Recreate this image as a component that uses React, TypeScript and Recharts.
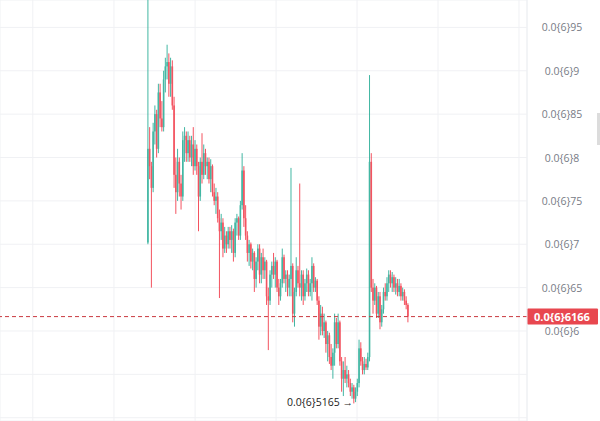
import {
  ComposedChart,
  Bar,
  XAxis,
  YAxis,
  CartesianGrid,
  ReferenceLine,
  ReferenceDot,
} from "recharts";

// prices in units of 1e-8 (0.0{6}6166 -> 6.166)
const opens = [
  7.02, 8.1, 7.9, 7.65, 8.3, 8.5, 8.1, 8.75, 8.45, 8.35,
  8.9, 9.05, 9.1, 8.85, 9.05, 8.6, 7.8, 7.6, 7.95, 7.7,
  7.55, 8.2, 8.25, 8.05, 8.2, 8.0, 8.15, 7.9, 8.1, 7.9,
  7.55, 7.95, 7.8, 8.05, 7.9, 7.95, 7.75, 7.9, 7.6, 7.5,
  7.55, 7.3, 7.15, 7.25, 6.95, 7.1, 7.0, 7.15, 7.05, 7.15,
  6.9, 7.25, 7.3, 7.1, 7.45, 7.85, 7.3, 7.1, 6.9, 7.0,
  6.8, 6.9, 6.6, 6.8, 6.95, 6.65, 6.85, 6.7, 6.8, 6.4,
  6.35, 6.65, 6.75, 6.65, 6.8, 6.5, 6.4, 6.55, 6.85, 6.6,
  6.65, 6.5, 6.6, 6.75, 6.2, 6.45, 6.7, 6.55, 6.5, 6.65,
  6.4, 6.55, 6.65, 6.45, 6.55, 6.75, 6.5, 6.58, 6.35, 6.05,
  6.2, 6.0, 6.1, 5.85, 5.95, 5.7, 5.6, 5.75, 6.1, 5.85,
  6.1, 5.65, 5.45, 5.55, 5.45, 5.5, 5.4, 5.3, 5.35, 5.22,
  5.3, 5.4, 5.8, 5.65, 5.55, 5.62, 5.58, 5.7, 7.95, 6.5,
  6.35, 6.5, 6.2, 6.4, 6.1, 6.25, 6.45, 6.4, 6.55, 6.65,
  6.55, 6.62, 6.5, 6.55, 6.45, 6.52, 6.4, 6.45, 6.35, 6.3,
];

const highs = [
  9.95, 8.35, 7.95, 8.4, 8.6, 8.55, 8.85, 8.85, 8.65, 9.0,
  9.15, 9.3, 9.2, 9.15, 9.12, 8.7, 8.0, 8.1, 8.0, 7.8,
  8.3, 8.35, 8.3, 8.3, 8.25, 8.25, 8.35, 8.2, 8.15, 7.95,
  8.0, 8.28, 8.15, 8.1, 8.0, 8.0, 7.98, 7.92, 7.7, 7.65,
  7.6, 7.4, 7.35, 7.3, 7.2, 7.15, 7.2, 7.2, 7.22, 7.18,
  7.3, 7.35, 7.32, 7.5, 8.05, 7.9, 7.45, 7.15, 7.05, 7.02,
  6.95, 6.92, 6.85, 7.0, 7.0, 6.9, 6.95, 6.85, 6.82, 6.5,
  6.7, 6.8, 6.9, 6.85, 6.82, 6.6, 6.6, 6.95, 6.88, 6.7,
  6.7, 6.65, 7.88, 6.78, 6.5, 6.85, 6.75, 7.7, 6.7, 6.7,
  6.6, 6.72, 6.7, 6.6, 6.85, 6.78, 6.62, 6.6, 6.4, 6.3,
  6.28, 6.2, 6.12, 6.0, 5.98, 5.85, 5.8, 6.2, 6.15, 6.2,
  6.12, 5.7, 5.65, 5.7, 5.6, 5.55, 5.45, 5.4, 5.38, 5.35,
  5.45, 5.9, 5.87, 5.7, 5.7, 5.68, 5.75, 8.95, 8.05, 6.6,
  6.55, 6.52, 6.45, 6.45, 6.3, 6.5, 6.55, 6.62, 6.7, 6.7,
  6.68, 6.65, 6.62, 6.6, 6.6, 6.55, 6.5, 6.48, 6.4, 6.32,
];

const lows = [
  7.0, 7.75, 6.5, 7.6, 8.15, 8.0, 8.05, 8.35, 8.3, 8.3,
  8.75, 8.9, 8.7, 8.7, 8.55, 7.65, 7.35, 7.5, 7.55, 7.4,
  7.5, 7.95, 7.95, 7.95, 7.95, 7.9, 7.8, 7.85, 7.8, 7.15,
  7.5, 7.7, 7.75, 7.8, 7.75, 7.7, 7.6, 7.55, 7.45, 7.35,
  7.25, 6.38, 7.05, 6.85, 6.9, 6.9, 6.95, 6.95, 6.9, 6.8,
  6.85, 7.1, 7.05, 7.05, 7.4, 7.2, 7.05, 6.8, 6.75, 6.72,
  6.7, 6.45, 6.5, 6.7, 6.55, 6.55, 6.6, 6.6, 6.3, 5.78,
  6.3, 6.5, 6.6, 6.5, 6.45, 6.3, 6.35, 6.5, 6.55, 6.45,
  6.4, 6.4, 6.4, 6.1, 6.05, 6.4, 6.5, 6.4, 6.35, 6.3,
  6.35, 6.45, 6.4, 6.4, 6.35, 6.45, 6.45, 6.3, 5.9, 5.95,
  5.95, 5.92, 5.75, 5.65, 5.62, 5.55, 5.45, 5.6, 5.8, 5.8,
  5.6, 5.3, 5.25, 5.4, 5.35, 5.35, 5.25, 5.22, 5.165, 5.18,
  5.25, 5.35, 5.6, 5.5, 5.5, 5.55, 5.55, 5.65, 6.45, 6.2,
  6.3, 6.15, 6.15, 6.02, 6.05, 6.2, 6.35, 6.35, 6.45, 6.5,
  6.45, 6.45, 6.42, 6.4, 6.4, 6.35, 6.35, 6.3, 6.25, 6.1,
];

const closes = [
  8.1, 7.9, 7.65, 8.3, 8.5, 8.1, 8.75, 8.45, 8.35, 8.9,
  9.05, 9.1, 8.85, 9.05, 8.6, 7.8, 7.6, 7.95, 7.7, 7.55,
  8.2, 8.25, 8.05, 8.2, 8.0, 8.15, 7.9, 8.1, 7.9, 7.55,
  7.95, 7.8, 8.05, 7.9, 7.95, 7.75, 7.9, 7.6, 7.5, 7.55,
  7.3, 7.15, 7.25, 6.95, 7.1, 7.0, 7.15, 7.05, 7.15, 6.9,
  7.25, 7.3, 7.1, 7.45, 7.85, 7.3, 7.1, 6.9, 7.0, 6.8,
  6.9, 6.6, 6.8, 6.95, 6.65, 6.85, 6.7, 6.8, 6.4, 6.35,
  6.65, 6.75, 6.65, 6.8, 6.5, 6.4, 6.55, 6.85, 6.6, 6.65,
  6.5, 6.6, 6.75, 6.2, 6.45, 6.7, 6.55, 6.5, 6.65, 6.4,
  6.55, 6.65, 6.45, 6.55, 6.75, 6.5, 6.58, 6.35, 6.05, 6.2,
  6.0, 6.1, 5.85, 5.95, 5.7, 5.6, 5.75, 6.1, 5.85, 6.1,
  5.65, 5.45, 5.55, 5.45, 5.5, 5.4, 5.3, 5.35, 5.22, 5.3,
  5.4, 5.8, 5.65, 5.55, 5.62, 5.58, 5.7, 7.95, 6.5, 6.35,
  6.5, 6.2, 6.4, 6.1, 6.25, 6.45, 6.4, 6.55, 6.65, 6.55,
  6.62, 6.5, 6.55, 6.45, 6.52, 6.4, 6.45, 6.35, 6.3, 6.166,
];

const priceTicks = [5, 5.5, 6, 6.5, 7, 7.5, 8, 8.5, 9, 9.5];
const timeTicks = [-66, -19.5, 27, 73.4, 119.8, 166.2, 212.6];
const lastPrice = 6.166;
const lowIndex = 118;
const lowPrice = 5.165;

const GREEN = "#22ab94";
const RED = "#f23645";

const data = closes.map((c, i) => ({
  i,
  open: opens[i],
  high: highs[i],
  low: lows[i],
  close: c,
  range: [lows[i], highs[i]],
}));

function fmt(v: number) {
  return "0.0{6}" + String(v).replace(".", "");
}

function Candle(props: any) {
  const { x, y, width, height, payload } = props;
  if (x == null || y == null) return null;
  const { open, close, high, low } = payload;
  const up = close >= open;
  const color = up ? GREEN : RED;
  const top = Math.min(y, y + height);
  const h = Math.abs(height);
  const k = high - low > 0 ? h / (high - low) : 0;
  const yo = top + (high - open) * k;
  const yc = top + (high - close) * k;
  const cx = x + width / 2;
  return (
    <g opacity={0.85}>
      <line x1={cx} x2={cx} y1={top} y2={top + h} stroke={color} strokeWidth={1} />
      <rect
        x={x}
        y={Math.min(yo, yc)}
        width={width}
        height={Math.max(1, Math.abs(yo - yc))}
        fill={color}
      />
    </g>
  );
}

function PriceTick({ x, y, payload }: any) {
  if (payload.value < 6) return null;
  return (
    <text x={x + 35} y={y + 4} textAnchor="middle" fontSize={10.5} fill="#787b86">
      {fmt(payload.value)}
    </text>
  );
}

function LastPriceLabel({ viewBox }: any) {
  const x = viewBox.x + viewBox.width;
  const y = viewBox.y;
  return (
    <g>
      <rect x={x} y={y - 8} width={71} height={16} fill="#e8474f" rx={1} />
      <text
        x={x + 35}
        y={y + 4}
        textAnchor="middle"
        fontSize={11}
        fontWeight="bold"
        fill="#fff"
      >
        {fmt(lastPrice)}
      </text>
    </g>
  );
}

function LowLabel({ viewBox }: any) {
  return (
    <text x={viewBox.x - 1} y={viewBox.y + 3} textAnchor="end" fontSize={10.5} fill="#222">
      {fmt(lowPrice) + " →"}
    </text>
  );
}

export default function App() {
  return (
    <div
      style={{
        position: "absolute",
        left: 0,
        top: 0,
        width: 600,
        height: 421,
        background: "#fff",
        fontFamily: "'Open Sans', sans-serif",
        overflow: "hidden",
      }}
    >
      <ComposedChart
        width={600}
        height={421}
        data={data}
        margin={{ top: 0, right: 0, bottom: 0, left: 0 }}
      >
        <CartesianGrid stroke="#f0f1f4" strokeWidth={1} />
        <XAxis
          dataKey="i"
          type="number"
          domain={[-84.8, 217.2]}
          ticks={timeTicks}
          allowDataOverflow
          hide
        />
        <YAxis
          orientation="right"
          width={73}
          domain={[4.9625, 9.8156]}
          ticks={priceTicks}
          interval={0}
          allowDataOverflow
          tickLine={false}
          tickSize={0}
          tickMargin={0}
          axisLine={{ stroke: "#eef0f3" }}
          tick={<PriceTick />}
        />
        <ReferenceLine
          y={lastPrice}
          stroke="#c9393f"
          strokeDasharray="4 3"
          label={<LastPriceLabel />}
        />
        <Bar
          dataKey="range"
          barSize={1.6}
          shape={<Candle />}
          isAnimationActive={false}
        />
        <ReferenceDot
          x={lowIndex}
          y={lowPrice}
          r={0}
          fill="none"
          stroke="none"
          label={<LowLabel />}
        />
      </ComposedChart>
      <div
        style={{
          position: "absolute",
          left: 597,
          top: 113,
          width: 3,
          height: 32,
          background: "#dcdcdc",
        }}
      />
    </div>
  );
}
